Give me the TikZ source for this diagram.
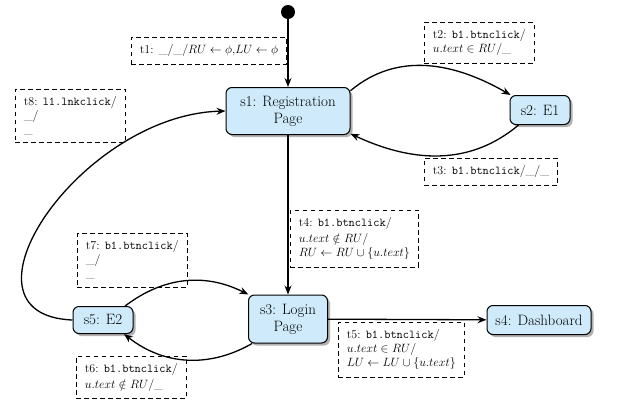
\RequirePackage{fix-cm}
\documentclass[tikz,border=0pt]{standalone}
\usetikzlibrary{arrows.meta,shadows}
\definecolor{statefill}{RGB}{207,234,251}
\begin{document}
\begin{tikzpicture}[x=1pt,y=-1pt,
  state/.style={draw, line width=1pt, rounded corners=6pt, fill=statefill,
    align=center, inner sep=0pt, font=\fontsize{15}{17}\selectfont,
    drop shadow={shadow xshift=2.5pt, shadow yshift=-2.5pt, fill=black!50, opacity=0.6}},
  trans/.style={draw, dash pattern=on 4.5pt off 3.5pt, line width=0.7pt,
    align=left, font=\fontsize{12}{14}\selectfont, inner xsep=8.5pt, inner ysep=7.5pt},
  edge/.style={line width=1.3pt, -{Stealth[length=9pt,width=7pt]}},
]
\fill[white] (0,0) rectangle (619,405);
\useasboundingbox (0,0) rectangle (619,405);

% transition labels
\node[trans, anchor=north east] (t1) at (287,37) {t1: \_/\_/$RU\leftarrow\phi$,$LU\leftarrow\phi$};
\node[trans, anchor=north west] (t2) at (424,22) {t2: \texttt{b1.btnclick}/\\$u.text\in RU$/\_};
\node[trans, anchor=north west] (t3) at (424,158) {t3: \texttt{b1.btnclick}/\_/\_};
\node[trans, anchor=north west] (t4) at (290,210) {t4: \texttt{b1.btnclick}/\\[1.5pt]$u.text\notin RU$/\\$RU\leftarrow RU\cup\{u.text\}$};
\node[trans, anchor=north west] (t5) at (338,322) {t5: \texttt{b1.btnclick}/\\$u.text\in RU$/\\$LU\leftarrow LU\cup\{u.text\}$};
\node[trans, anchor=south west] (t6) at (76,399) {t6: \texttt{b1.btnclick}/\\[1.5pt]$u.text\notin RU$/\_};
\node[trans, anchor=north west] (t7) at (77,233) {t7: \texttt{b1.btnclick}/\\\_/\\\_};
\node[trans, anchor=south west] (t8) at (15,143) {t8: \texttt{l1.lnkclick}/\\\_/\\\_};

% states
\node[circle, fill, inner sep=0pt, minimum size=14pt] (init) at (288,12) {};
\node[state, minimum width=124pt, minimum height=47pt] (s1) at (288,111) {s1: Registration\\Page};
\node[state, minimum width=60pt, minimum height=29pt] (s2) at (540,110) {s2: E1};
\node[state, minimum width=79pt, minimum height=48pt] (s3) at (288,319) {s3: Login\\Page};
\node[state, minimum width=104pt, minimum height=29pt] (s4) at (539,320) {s4: Dashboard};
\node[state, minimum width=60pt, minimum height=27pt] (s5) at (103,320) {s5: E2};

% transitions
\draw[edge] (init) -- (s1);
\draw[edge] (s1.18) to[out=40, in=150] (s2.153);
\draw[edge] (s2.215) to[out=220, in=-25] (s1.-20);
\draw[edge] (s1) -- (s3);
\draw[edge] (s3) -- (s4);
\draw[edge] (s5) to[bend left=32] (s3);
\draw[edge] (s3) to[bend left=34] (s5);
\draw[edge] (s5.west) .. controls (-55,315) and (80,115) .. (s1.west);
\end{tikzpicture}
\end{document}
